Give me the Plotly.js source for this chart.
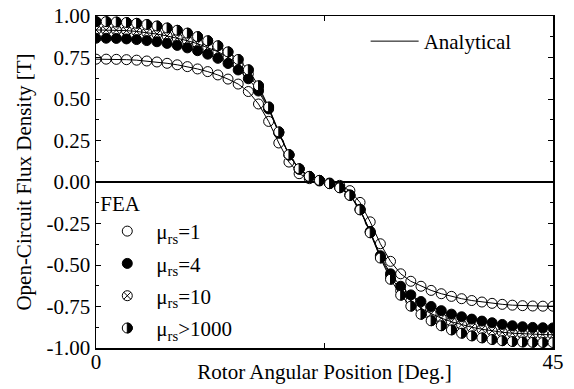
<!DOCTYPE html>
<html>
<head>
<meta charset="utf-8">
<script src="https://cdn.plot.ly/plotly-3.0.1.min.js"></script>
<style>html,body{margin:0;padding:0;background:#fff;}#chart{width:574px;height:389px;}</style>
</head>
<body>
<div id="chart"></div>
<script>
// Rotor angular position [deg]
const angle = [0,1,2,3,4,5,6,7,8,9,10,11,12,13,14,15,16,17,18,19,20,21,22,23,24,25,26,27,28,29,30,31,32,33,34,35,36,37,38,39,40,41,42,43,44,45];

// FEA open-circuit flux density [T]
const fea_mu1 = [0.740,0.740,0.739,0.737,0.734,0.729,0.723,0.715,0.706,0.695,0.681,0.665,0.645,0.620,0.590,0.545,0.470,0.365,0.235,0.120,0.050,0.020,0.006,
  -0.006,-0.020,-0.052,-0.123,-0.240,-0.372,-0.478,-0.553,-0.598,-0.628,-0.653,-0.673,-0.689,-0.703,-0.714,-0.723,-0.731,-0.737,-0.742,-0.745,-0.747,-0.748,-0.748];
const fea_mu4 = [0.866,0.866,0.865,0.862,0.858,0.852,0.845,0.835,0.823,0.808,0.791,0.770,0.745,0.714,0.675,0.622,0.548,0.440,0.295,0.162,0.077,0.032,0.009,
  -0.009,-0.032,-0.078,-0.164,-0.298,-0.444,-0.553,-0.628,-0.680,-0.720,-0.750,-0.775,-0.796,-0.812,-0.826,-0.838,-0.848,-0.858,-0.866,-0.872,-0.876,-0.878,-0.879];
const fea_mu10 = [0.916,0.916,0.915,0.912,0.907,0.900,0.891,0.880,0.867,0.851,0.833,0.811,0.785,0.752,0.710,0.652,0.565,0.446,0.298,0.163,0.078,0.033,0.009,
  -0.009,-0.033,-0.079,-0.166,-0.302,-0.451,-0.570,-0.655,-0.716,-0.760,-0.793,-0.820,-0.842,-0.860,-0.875,-0.887,-0.897,-0.905,-0.911,-0.915,-0.918,-0.919,-0.920];
const fea_mu1000 = [0.966,0.966,0.964,0.961,0.956,0.949,0.940,0.928,0.914,0.897,0.876,0.851,0.821,0.784,0.738,0.676,0.580,0.452,0.302,0.165,0.080,0.034,0.010,
  -0.010,-0.035,-0.081,-0.168,-0.306,-0.458,-0.586,-0.682,-0.748,-0.797,-0.836,-0.866,-0.891,-0.911,-0.927,-0.939,-0.949,-0.956,-0.961,-0.964,-0.966,-0.967,-0.967];

// Analytical curves (lines through the FEA points)
const analytical = [fea_mu1, fea_mu4, fea_mu10, fea_mu1000];

const seriesNames = ['μ<sub>rs</sub>=1','μ<sub>rs</sub>=4','μ<sub>rs</sub>=10','μ<sub>rs</sub>>1000'];
const yTickVals = [-1,-0.75,-0.5,-0.25,0,0.25,0.5,0.75,1];
const yTickText = ['-1.00','-0.75','-0.50','-0.25','0.00','0.25','0.50','0.75','1.00'];
const yMinorVals = [-0.875,-0.625,-0.375,-0.125,0.125,0.375,0.625,0.875];
const xTickVals = [0,45];
const xTickText = ['0','45'];
const xMinorVals = [22.5];

const FONT = 'Liberation Serif';
const FS = 21;
const data = [];
analytical.forEach((ys,i)=>{
  data.push({x:angle, y:ys, type:'scatter', mode:'lines', line:{color:'#000', width:1},
    name:'Analytical', legend:'legend2', showlegend:i===0, hoverinfo:'skip'});
});
const symbols = ['circle-open','circle','circle-x-open','circle'];
const fills = ['#000','#000','#000','#fff'];
[fea_mu1, fea_mu4, fea_mu10, fea_mu1000].forEach((ys,i)=>{
  data.push({x:angle, y:ys, type:'scatter', mode:'markers', name:seriesNames[i],
    legend:'legend', legendgroup:'g'+i,
    marker:{symbol:symbols[i], size:10, color:fills[i], line:{color:'#000', width:1}}});
});

const layout = {
  width:574, height:389,
  margin:{l:96, r:21, t:16, b:41},
  paper_bgcolor:'#fff', plot_bgcolor:'#fff',
  font:{family:FONT, size:FS, color:'#000'},
  showlegend:true,
  xaxis:{range:[0,45], tickmode:'array', tickvals:xTickVals, ticktext:xTickText,
    ticks:'inside', ticklen:5, tickwidth:1, tickcolor:'#000', ticklabelstandoff:-6,
    minor:{tickmode:'array', tickvals:xMinorVals, ticks:'inside', ticklen:5, tickcolor:'#000', showgrid:false},
    showline:true, linecolor:'#000', linewidth:1.5, mirror:'ticks',
    showgrid:false, zeroline:false,
    tickfont:{family:FONT, size:FS},
    title:{text:'Rotor Angular Position [Deg.]', font:{family:FONT, size:FS}, standoff:0}},
  yaxis:{range:[-1,1], tickmode:'array', tickvals:yTickVals, ticktext:yTickText,
    ticks:'inside', ticklen:5, tickwidth:1, tickcolor:'#000',
    minor:{tickmode:'array', tickvals:yMinorVals, ticks:'inside', ticklen:3, tickcolor:'#000', showgrid:false},
    showline:true, linecolor:'#000', linewidth:1.5, mirror:'ticks',
    showgrid:false, zeroline:true, zerolinecolor:'#000', zerolinewidth:1.5,
    tickfont:{family:FONT, size:FS},
    title:{text:'Open-Circuit Flux Density [T]', font:{family:FONT, size:FS}, standoff:9}},
  legend:{x:0.005, y:0.495, xanchor:'left', yanchor:'top', bgcolor:'rgba(0,0,0,0)',
    font:{family:FONT, size:FS}, title:{text:'FEA', font:{family:FONT, size:FS}},
    itemwidth:48, traceorder:'grouped', tracegroupgap:2},
  legend2:{x:0.59, y:0.985, xanchor:'left', yanchor:'top', bgcolor:'rgba(0,0,0,0)',
    font:{family:FONT, size:FS}, itemwidth:48}
};

Plotly.newPlot('chart', data, layout, {displayModeBar:false, staticPlot:true}).then(gd=>{
  // nudge the x-axis title up slightly, as in the reference
  const xt = gd.querySelector('.g-xtitle text');
  if (xt) {
    const yv = parseFloat(xt.getAttribute('y'));
    if (!isNaN(yv)) xt.setAttribute('y', yv - 5);
  }
  const halfIdx = 7; // index of the half-filled trace
  const r = 5;
  const halfPath = 'M0,-'+r+'A'+r+','+r+' 0 0,1 0,'+r+'Z';
  const addHalf = (el)=>{
    const p = document.createElementNS('http://www.w3.org/2000/svg','path');
    p.setAttribute('d', halfPath);
    const t = el.getAttribute('transform');
    if (t) p.setAttribute('transform', t);
    p.setAttribute('style','fill:#000;stroke:#000;stroke-width:1px;');
    el.parentNode.insertBefore(p, el.nextSibling);
  };
  gd.querySelectorAll('.scatterlayer .trace').forEach(tr=>{
    const d = tr.__data__;
    if (d && d[0] && d[0].trace && d[0].trace.index === halfIdx) {
      tr.querySelectorAll('path.point').forEach(addHalf);
    }
  });
  gd.querySelectorAll('.legend .traces').forEach(tr=>{
    const d = tr.__data__;
    if (d && d[0] && d[0].trace && d[0].trace.index === halfIdx) {
      tr.querySelectorAll('path.scatterpts').forEach(addHalf);
    }
  });
});
</script>
</body>
</html>
